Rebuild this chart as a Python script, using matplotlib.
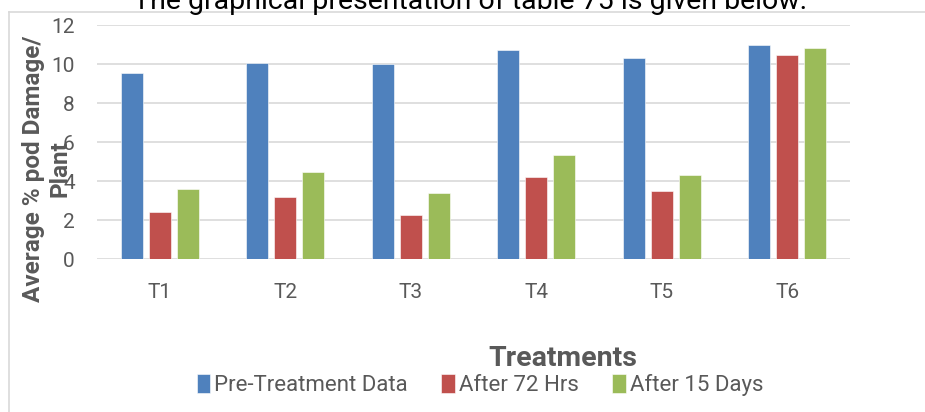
import matplotlib
matplotlib.use("Agg")
import matplotlib.pyplot as plt
from matplotlib.lines import Line2D
import numpy as np

plt.rcParams['font.family'] = ['Roboto', 'DejaVu Sans']

categories = ["T1", "T2", "T3", "T4", "T5", "T6"]
series_names = ["Pre-Treatment Data", "After 72 Hrs", "After 15 Days"]
pre_treatment = [9.56, 10.10, 10.02, 10.74, 10.32, 10.98]
after_72_hrs = [2.42, 3.22, 2.26, 4.23, 3.52, 10.50]
after_15_days = [3.63, 4.50, 3.42, 5.36, 4.34, 10.84]
yticks = [0, 2, 4, 6, 8, 10, 12]
title_text = "The graphical presentation of table 75 is given below."
ylabel_text = "Average % pod Damage/\nPlant"
xlabel_text = "Treatments"

colors = ["#4F81BD", "#C0504D", "#9BBB59"]
W, H = 925, 412
fig = plt.figure(figsize=(W / 100, H / 100), dpi=100)
ax = fig.add_axes([97 / W, 1 - 259.3 / H, (850 - 97) / W, (259.3 - 25.5) / H])

x = np.arange(len(categories))
bw = 0.175
step = 0.223
handles = []
for i, (vals, c, name) in enumerate(zip([pre_treatment, after_72_hrs, after_15_days], colors, series_names)):
    b = ax.bar(x + (i - 1) * step, vals, width=bw, color=c, edgecolor="white",
               linewidth=0.4, label=name, zorder=3)
    handles.append(b)

ax.set_xlim(-0.5, len(categories) - 0.5)
ax.set_ylim(0, 12)
ax.set_yticks(yticks)
ax.set_xticks(x)
ax.set_xticklabels(categories)
ax.grid(axis="y", color="#d9d9d9", linewidth=1.2, zorder=0)
ax.set_axisbelow(True)
for s in ax.spines.values():
    s.set_visible(False)
ax.tick_params(axis="both", length=0, colors="#595959", labelsize=15)
ax.tick_params(axis="y", pad=16)
ax.tick_params(axis="x", pad=17)

# y label (two lines, bold, rotated)
fig.text(47 / W, 1 - 169 / H, ylabel_text, rotation=90, ha="center", va="center",
         fontsize=17.5, fontweight="bold", color="#595959", multialignment="center",
         linespacing=1.2)

# x label
fig.text(563 / W, 1 - 358 / H, xlabel_text, ha="center", va="center",
         fontsize=20.5, fontweight="bold", color="#595959")

# title (cut off at top)
fig.text(470 / W, 1 - 9 / H, title_text, ha="center", va="baseline",
         fontsize=20.5, color="#000000")

# legend
fig.legend(handles=handles, labels=series_names, loc="center",
           bbox_to_anchor=(480 / W, 1 - 385 / H), ncol=3, frameon=False,
           fontsize=16, handlelength=0.6, handleheight=0.9, handletextpad=0.2,
           columnspacing=1.5, labelcolor="#595959")

# chart border (left and top)
fig.add_artist(Line2D([8.5 / W, 8.5 / W], [0, 1 - 12 / H], color="#d9d9d9", linewidth=1.2,
                      transform=fig.transFigure))
fig.add_artist(Line2D([8.5 / W, 1], [1 - 12 / H, 1 - 12 / H], color="#d9d9d9", linewidth=1.2,
                      transform=fig.transFigure))

fig.savefig("out.png", dpi=100)
